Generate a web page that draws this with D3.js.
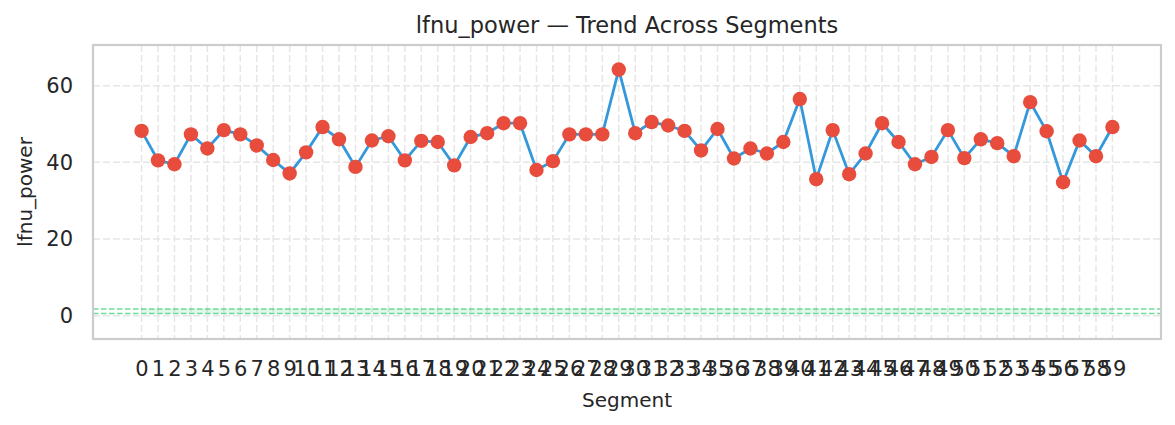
<!DOCTYPE html>
<html>
<head>
<meta charset="utf-8">
<script src="https://cdn.jsdelivr.net/npm/d3@7"></script>
<style>
  body { margin: 0; background: #fff; }
  svg { display: block; font-family: "DejaVu Sans", sans-serif; }
</style>
</head>
<body>
<svg id="chart"></svg>
<script>
var segments = d3.range(0, 60);
var lfnuPower = [48.2, 40.5, 39.5, 47.3, 43.6, 48.4, 47.3, 44.4, 40.6, 37.1,
                 42.6, 49.2, 46.0, 38.8, 45.7, 46.8, 40.5, 45.6, 45.3, 39.2,
                 46.6, 47.6, 50.2, 50.2, 38.0, 40.3, 47.3, 47.3, 47.3, 64.2,
                 47.6, 50.5, 49.6, 48.2, 43.1, 48.7, 41.0, 43.6, 42.3, 45.3,
                 56.5, 35.6, 48.4, 36.9, 42.3, 50.2, 45.3, 39.5, 41.4, 48.4,
                 41.1, 46.0, 45.0, 41.6, 55.7, 48.1, 34.8, 45.7, 41.6, 49.2];
var bandLevels = [0.57, 1.75];
var yTicks = [0, 20, 40, 60];

var W = 1175, H = 425;
var margin = {top: 45, left: 93, right: 14, bottom: 86};

var svg = d3.select("#chart").attr("width", W).attr("height", H);

var x = d3.scaleLinear()
	.domain([-2.95, 61.95])
	.range([margin.left, W - margin.right]);
var y = d3.scaleLinear()
	.domain([-6.08, 70.6])
	.range([H - margin.bottom, margin.top]);

var textColor = "#262626";

// grid
svg.append("g")
	.selectAll("line")
	.data(segments)
	.join("line")
	.attr("x1", d => x(d)).attr("x2", d => x(d))
	.attr("y1", margin.top).attr("y2", H - margin.bottom)
	.attr("stroke", "#e6e6e6").attr("stroke-width", 1.5)
	.attr("stroke-dasharray", "7,3");
svg.append("g")
	.selectAll("line")
	.data(yTicks)
	.join("line")
	.attr("x1", margin.left).attr("x2", W - margin.right)
	.attr("y1", d => y(d)).attr("y2", d => y(d))
	.attr("stroke", "#e6e6e6").attr("stroke-width", 1.5)
	.attr("stroke-dasharray", "7,3");

// band between levels across the data range
svg.append("rect")
	.attr("x", x(segments[0]))
	.attr("width", x(segments[segments.length - 1]) - x(segments[0]))
	.attr("y", y(bandLevels[1]))
	.attr("height", y(bandLevels[0]) - y(bandLevels[1]))
	.attr("fill", "#2ecc71").attr("opacity", 0.15);

svg.append("g")
	.selectAll("line")
	.data(bandLevels)
	.join("line")
	.attr("x1", margin.left).attr("x2", W - margin.right)
	.attr("y1", d => y(d)).attr("y2", d => y(d))
	.attr("stroke", "#2ecc71").attr("stroke-width", 1.5)
	.attr("stroke-opacity", 0.7)
	.attr("stroke-dasharray", "5.5,2.5");

// line + markers
var line = d3.line()
	.x((d, i) => x(segments[i]))
	.y(d => y(d));
svg.append("path")
	.datum(lfnuPower)
	.attr("d", line)
	.attr("fill", "none")
	.attr("stroke", "#3498db")
	.attr("stroke-width", 2.8);
svg.append("g")
	.selectAll("circle")
	.data(lfnuPower)
	.join("circle")
	.attr("cx", (d, i) => x(segments[i]))
	.attr("cy", d => y(d))
	.attr("r", 7.2)
	.attr("fill", "#e74c3c");

// frame
svg.append("rect")
	.attr("x", margin.left).attr("y", margin.top)
	.attr("width", W - margin.left - margin.right)
	.attr("height", H - margin.top - margin.bottom)
	.attr("fill", "none")
	.attr("stroke", "#cccccc").attr("stroke-width", 2.2);

// axes
var xAxis = svg.append("g")
	.attr("transform", "translate(0," + (H - margin.bottom) + ")")
	.call(d3.axisBottom(x).tickValues(segments).tickFormat(d3.format("d")).tickSize(0).tickPadding(22));
var yAxis = svg.append("g")
	.attr("transform", "translate(" + margin.left + ",0)")
	.call(d3.axisLeft(y).tickValues(yTicks).tickSize(0).tickPadding(20));
[xAxis, yAxis].forEach(g => {
	g.select(".domain").remove();
	g.selectAll("text")
		.attr("fill", textColor)
		.style("font-size", "21px")
		.style("font-family", "DejaVu Sans");
});

// labels
svg.append("text")
	.attr("x", (margin.left + W - margin.right) / 2)
	.attr("y", 33)
	.attr("text-anchor", "middle")
	.attr("fill", textColor)
	.style("font-size", "22.5px")
	.text("lfnu_power — Trend Across Segments");
svg.append("text")
	.attr("x", (margin.left + W - margin.right) / 2)
	.attr("y", 407)
	.attr("text-anchor", "middle")
	.attr("fill", textColor)
	.style("font-size", "20px")
	.text("Segment");
svg.append("text")
	.attr("transform", "translate(32," + ((margin.top + H - margin.bottom) / 2) + ") rotate(-90)")
	.attr("text-anchor", "middle")
	.attr("fill", textColor)
	.style("font-size", "20px")
	.text("lfnu_power");
</script>
</body>
</html>
